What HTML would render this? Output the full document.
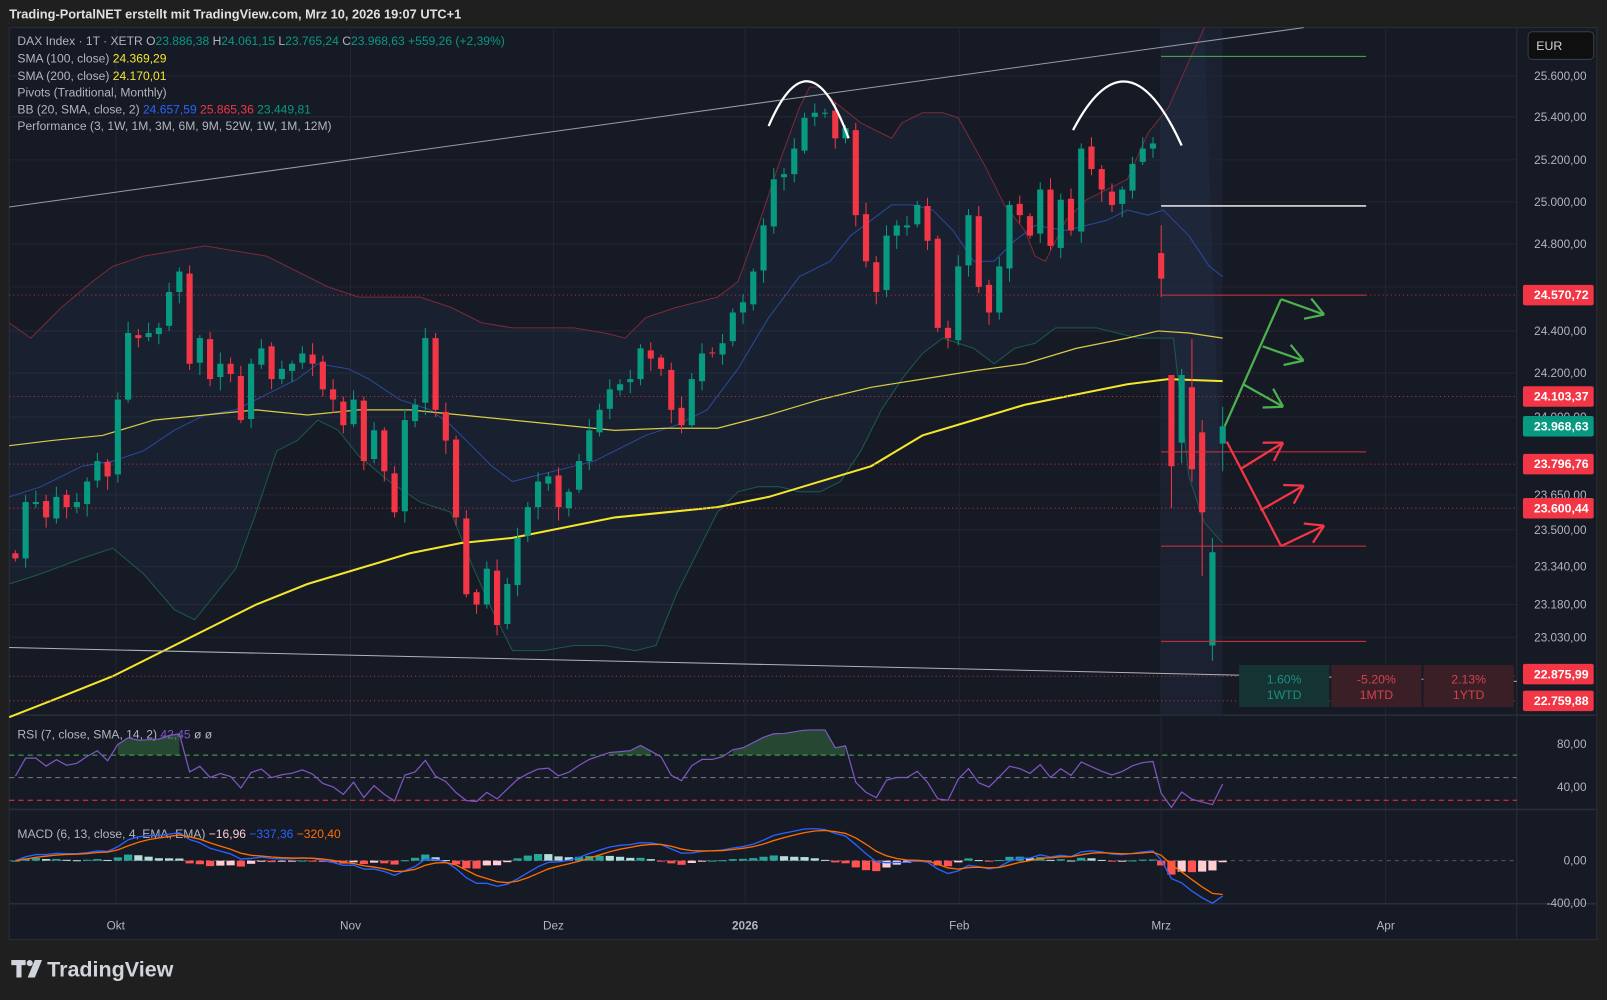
<!DOCTYPE html>
<html><head><meta charset="utf-8"><style>
html,body{margin:0;padding:0;background:#1f1f1f;overflow:hidden}
svg{display:block}
text{font-family:"Liberation Sans",sans-serif}
</style></head><body>
<svg id="s" width="1607" height="1000" viewBox="0 0 1568 976" preserveAspectRatio="none" xmlns="http://www.w3.org/2000/svg">
<rect width="1568" height="976" fill="#1f1f1f"/>
<text x="9" y="18" fill="#e0e0e0" font-size="12.5" font-weight="bold">Trading-PortalNET erstellt mit TradingView.com, Mrz 10, 2026 19:07 UTC+1</text>
<rect x="9" y="27" width="1549" height="890" fill="#161a25" stroke="#2a2e39"/>
<rect x="1133" y="28" width="60" height="670" fill="#1b2130"/>
<g id="grid" stroke="#232632" stroke-width="1"></g>
</svg>
<script>
(function(){
const S=document.getElementById('s');const NS='http://www.w3.org/2000/svg';
function el(t,a,p){const e=document.createElementNS(NS,t);for(const k in a)e.setAttribute(k,a[k]);(p||S).appendChild(e);return e;}
function tx(x,y,s,c,sz,anc,w){const e=el('text',{x:x,y:y,fill:c,'font-size':sz||12,'text-anchor':anc||'start','font-weight':w||'normal'});e.textContent=s;return e;}
function pl(pts,c,w,extra){const a={points:pts.map(p=>p.join(',')).join(' '),fill:'none',stroke:c,'stroke-width':w||1};Object.assign(a,extra||{});return el('polyline',a);}
const G=document.getElementById('grid');
[74,114,156,197,238,280,323,364,407,483,517,553,590,622].forEach(y=>el('line',{x1:10,x2:1480,y1:y,y2:y},G));
[113,342,540,727,936,1133,1352].forEach(x=>el('line',{x1:x,x2:x,y1:28,y2:882},G));
[698,790,882].forEach(y=>el('line',{x1:9,x2:1557,y1:y,y2:y,stroke:'#2a2e39','stroke-width':1.5}));
el('line',{x1:1480,x2:1480,y1:27,y2:916,stroke:'#2a2e39'});
const up=[[9,315],[30,330],[60,300],[90,275],[110,260],[140,250],[170,245],[200,240],[230,245],[260,250],[290,265],[320,280],[350,290],[380,290],[410,290],[440,300],[470,315],[500,320],[530,320],[560,320],[590,325],[610,330],[630,310],[660,300],[700,290],[720,275],[740,220],[760,160],[780,105],[790,85],[800,85],[815,100],[840,120],[870,135],[880,120],[900,110],[920,110],[935,115],[960,160],[980,200],[1000,225],[1010,250],[1020,255],[1040,215],[1060,195],[1080,185],[1100,175],[1120,130],[1140,105],[1160,60],[1175,27]];
const mid=[[9,485],[40,475],[80,455],[110,450],[140,440],[170,420],[200,405],[230,400],[260,385],[290,370],[310,355],[340,360],[360,370],[390,390],[420,400],[440,415],[460,435],[480,455],[500,470],[520,465],[540,460],[560,455],[580,450],[600,440],[630,425],[660,415],[690,400],[720,360],[750,310],[780,270],[810,255],[830,230],[850,215],[870,200],[890,200],[910,205],[930,225],[950,255],[970,255],[990,235],[1010,220],[1040,225],[1060,220],[1080,215],[1100,205],[1120,210],[1135,205],[1160,230],[1180,260],[1193,270]];
const lo=[[9,570],[40,560],[80,545],[110,535],[140,560],[170,595],[190,605],[210,580],[230,555],[250,500],[270,440],[290,430],[310,410],[330,420],[350,445],[380,470],[410,490],[440,500],[460,550],[480,595],[500,635],[530,635],[560,630],[590,630],[620,635],[640,630],[660,580],[680,540],[700,500],[720,480],[740,475],[760,475],[780,480],[800,480],[820,470],[840,440],[860,400],[880,370],[900,345],[920,330],[950,340],[970,355],[990,340],[1010,335],[1030,320],[1050,320],[1070,320],[1090,325],[1110,330],[1130,330],[1145,330],[1160,465],[1175,510],[1193,530]];
el('polygon',{points:up.concat(lo.slice().reverse()).map(p=>p.join(',')).join(' '),fill:'rgba(60,90,140,0.10)'});
pl(up,'#7a2a38',1);pl(mid,'#2a4a9e',1);pl(lo,'#1b5a4c',1);
pl([[9,435],[50,430],[100,425],[150,410],[200,405],[250,400],[300,405],[350,400],[400,400],[450,405],[500,410],[550,415],[600,420],[650,418],[700,418],[750,405],[800,390],[850,378],[900,370],[950,362],[1000,355],[1050,340],[1100,330],[1130,323],[1160,325],[1193,330]],'#d8cc48',1.2);
pl([[9,700],[60,680],[110,660],[160,635],[200,615],[250,590],[300,570],[350,555],[400,540],[450,530],[500,525],[550,515],[600,505],[650,500],[700,495],[750,485],[800,470],[850,455],[900,425],[950,410],[1000,395],[1050,385],[1100,375],[1140,370],[1193,372]],'#f5e62c',2);
el('line',{x1:9,y1:202,x2:1272,y2:27,stroke:'#9a9ca4','stroke-width':1});
el('line',{x1:9,y1:632,x2:1480,y2:665,stroke:'#b0b2b8','stroke-width':1});
[288,387,453,496,660,684].forEach(y=>el('line',{x1:9,x2:1480,y1:y,y2:y,stroke:'#c2303f','stroke-width':1,'stroke-dasharray':'1,3'}));
const C=[545,490,490,505,485,495,490,470,450,465,390,325,330,325,320,285,265,355,330,370,355,365,410,355,340,370,360,355,345,355,380,390,415,390,450,420,460,500,410,395,330,400,430,505,580,590,555,610,570,525,495,470,465,495,480,450,420,400,380,375,370,340,350,360,400,415,370,345,345,335,305,295,265,220,175,170,145,115,110,110,135,125,210,255,285,230,220,220,200,235,320,330,260,210,280,305,260,200,210,230,185,240,195,225,145,165,185,200,185,160,145,140];
const cs=[];let prev=540;
C.forEach((c,i)=>{const o=(i==0)?540:prev+((i*7)%5-2);const x=15+i*10;const h=Math.min(o,c)-3-((i*13)%9);const l=Math.max(o,c)+3+((i*17)%11);cs.push({x,o,c,h,l});prev=c;});
[[1133,247,272,220,290],[1143,366,455,366,496],[1153,432,366,360,452],[1163,378,458,331,470],[1173,422,500,410,562],[1183,630,539,525,645],[1193,433,416,397,460]].forEach(a=>cs.push({x:a[0],o:a[1],c:a[2],h:a[3],l:a[4]}));
cs.forEach(k=>{const col=k.c<k.o?'#089981':'#f23645';el('line',{x1:k.x,x2:k.x,y1:k.h,y2:k.l,stroke:col,'stroke-width':1});const t=Math.min(k.o,k.c),b=Math.max(k.o,k.c);el('rect',{x:k.x-3,y:t,width:6,height:Math.max(1,b-t),fill:col});});
el('line',{x1:1133,x2:1333,y1:55,y2:55,stroke:'#4caf50','stroke-width':1});
el('line',{x1:1133,x2:1333,y1:201,y2:201,stroke:'#ffffff','stroke-width':1.3});
[288,441,533,626].forEach(y=>el('line',{x1:1133,x2:1333,y1:y,y2:y,stroke:'#d83040','stroke-width':1}));
el('path',{d:'M750,123 Q790,30 828,135',fill:'none',stroke:'#fff','stroke-width':2.2});
el('path',{d:'M1047,127 Q1100,25 1153,142',fill:'none',stroke:'#fff','stroke-width':2.2});
function arrow(p,q,c){el('line',{x1:p[0],y1:p[1],x2:q[0],y2:q[1],stroke:c,'stroke-width':2.2});const a=Math.atan2(q[1]-p[1],q[0]-p[0]);const L=20;[0.55,-0.55].forEach(d=>el('line',{x1:q[0],y1:q[1],x2:q[0]-L*Math.cos(a+d),y2:q[1]-L*Math.sin(a+d),stroke:c,'stroke-width':2.2}));}
el('polyline',{points:'1195,416 1250,292',fill:'none',stroke:'#4caf50','stroke-width':2.2});
arrow([1213,375],[1252,397],'#4caf50');arrow([1232,338],[1272,352],'#4caf50');arrow([1250,292],[1292,307],'#4caf50');
el('polyline',{points:'1197,431 1250,533',fill:'none',stroke:'#f23645','stroke-width':2.2});
arrow([1210,458],[1252,432],'#f23645');arrow([1230,498],[1272,474],'#f23645');arrow([1250,533],[1292,513],'#f23645');
[[1209,'#153333','1.60%','1WTD','#1a8f80'],[1299,'#3a2026','-5.20%','1MTD','#d6404e'],[1389,'#3a2026','2.13%','1YTD','#d6404e']].forEach(b=>{el('rect',{x:b[0],y:649,width:88,height:41,fill:b[1]});tx(b[0]+44,667,b[2],b[4],12,'middle');tx(b[0]+44,682,b[3],b[4],12,'middle');});
const ax=[[74,'25.600,00'],[114,'25.400,00'],[156,'25.200,00'],[197,'25.000,00'],[238,'24.800,00'],[323,'24.400,00'],[364,'24.200,00'],[407,'24.000,00'],[483,'23.650,00'],[517,'23.500,00'],[553,'23.340,00'],[590,'23.180,00'],[622,'23.030,00'],[726,'80,00'],[768,'40,00'],[840,'0,00'],[881,'-400,00']];
ax.forEach(a=>tx(1548,a[0]+4,a[1],'#b2b5be',11.5,'end'));
[[288,'24.570,72','#f23645'],[387,'24.103,37','#f23645'],[416,'23.968,63','#089981'],[453,'23.796,76','#f23645'],[496,'23.600,44','#f23645'],[658,'22.875,99','#f23645'],[684,'22.759,88','#f23645']].forEach(a=>{el('rect',{x:1486,y:a[0]-10,width:69,height:20,fill:a[2],rx:2});tx(1550,a[0]+4,a[1],'#fff',12,'end','bold');});
el('rect',{x:1491,y:31,width:64,height:27,rx:4,fill:'#0f0f0f',stroke:'#3a3d47'});tx(1499,49,'EUR','#d1d4dc',12);
[[113,'Okt'],[342,'Nov'],[540,'Dez'],[727,'2026'],[936,'Feb'],[1133,'Mrz'],[1352,'Apr']].forEach(t=>tx(t[0],907,t[1],'#b2b5be',11.5,'middle',t[1]=='2026'?'bold':'normal'));
function ln(y,parts){const t=el('text',{x:17,y:y,'font-size':11.8});parts.forEach(p=>{const s=el('tspan',{fill:p[1]},t);s.textContent=p[0];});}
const g='#089981',w='#b2b5be';
ln(44,[['DAX Index · 1T · XETR  O',w],['23.886,38',g],['  H',w],['24.061,15',g],['  L',w],['23.765,24',g],['  C',w],['23.968,63',g],['  +559,26 (+2,39%)',g]]);
ln(61,[['SMA (100, close)  ',w],['24.369,29','#f5e62c']]);
ln(78,[['SMA (200, close)  ',w],['24.170,01','#f5e62c']]);
ln(94,[['Pivots (Traditional, Monthly)',w]]);
ln(111,[['BB (20, SMA, close, 2)  ',w],['24.657,59','#2962ff'],['  25.865,36','#f23645'],['  23.449,81',g]]);
ln(127,[['Performance (3, 1W, 1M, 3M, 6M, 9M, 52W, 1W, 1M, 12M)',w]]);
ln(721,[['RSI (7, close, SMA, 14, 2)  ',w],['42,45','#7e57c2'],['  ø  ø',w]]);
ln(818,[['MACD (6, 13, close, 4, EMA, EMA)  ',w],['−16,96','#ffcdd2'],['  −337,36','#2962ff'],['  −320,40','#ff6d00']]);
[[737,'#4caf50'],[759,'#787b86'],[781,'#f23645']].forEach(a=>el('line',{x1:9,x2:1480,y1:a[0],y2:a[0],stroke:a[1],'stroke-dasharray':'5,4','stroke-width':1}));
const price=cs.map(k=>25600-(k.c-74)/0.2133);
let ag=50,al=50;const rsi=[];for(let i=0;i<price.length;i++){const d=i?price[i]-price[i-1]:0;const gn=Math.max(d,0),ls=Math.max(-d,0);ag=(ag*6+gn)/7;al=(al*6+ls)/7;rsi.push(100-100/(1+ag/(al||1e-6)));}
const rp=cs.map((k,i)=>[k.x,Math.max(712,Math.min(788,768-(rsi[i]-40)*1.05))]);
let seg=[];rp.forEach((p)=>{if(p[1]<737){seg.push(p)}else if(seg.length){el('polygon',{points:[[seg[0][0],737]].concat(seg,[[seg[seg.length-1][0],737]]).map(q=>q.join(',')).join(' '),fill:'rgba(76,175,80,0.3)'});seg=[];}});
pl(rp,'#7e57c2',1.2);
function ema(a,n){const k=2/(n+1);let r=[];a.forEach((v,i)=>r.push(i?v*k+r[i-1]*(1-k):v));return r;}
const e6=ema(price,6),e13=ema(price,13);const m=e6.map((v,i)=>v-e13[i]);const sg=ema(m,4);
const my=v=>Math.max(792,Math.min(882,840-v*0.1025));
el('line',{x1:9,x2:1480,y1:840,y2:840,stroke:'#555862','stroke-dasharray':'4,4'});
m.forEach((v,i)=>{const h=v-sg[i];const ph=i?m[i-1]-sg[i-1]:0;let col=h>=0?(h>=ph?'#26a69a':'#b2dfdb'):(h<ph?'#ff5252':'#ffcdd2');const y=my(h*1.0);el('rect',{x:cs[i].x-4,y:Math.min(840,y),width:8,height:Math.max(1,Math.abs(y-840)),fill:col});});
pl(cs.map((k,i)=>[k.x,my(m[i])]),'#2962ff',1.3);
pl(cs.map((k,i)=>[k.x,my(sg[i])]),'#ff6d00',1.3);
el('rect',{x:11,y:937,width:14,height:5,fill:'#d1d4dc'});el('rect',{x:16,y:937,width:5,height:17,fill:'#d1d4dc'});
el('circle',{cx:29,cy:940,r:3,fill:'#d1d4dc'});el('polygon',{points:'34,937 41,937 34,954 27,954',fill:'#d1d4dc'});
tx(46,953,'TradingView','#d1d4dc',21,'start','bold');
})();
</script>
</body></html>
